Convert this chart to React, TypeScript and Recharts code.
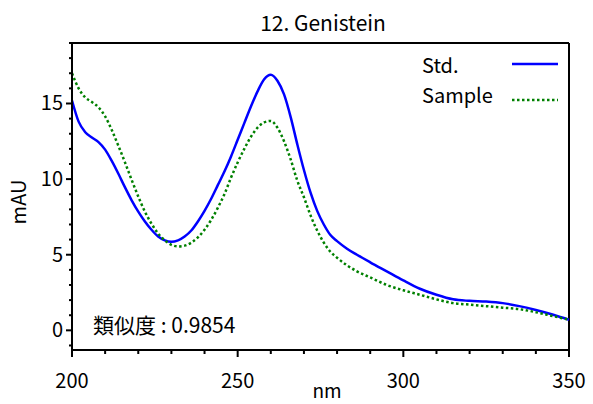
import React from 'react';
import { LineChart, Line, XAxis, YAxis, ReferenceLine, Legend } from 'recharts';

const wavelength = [
  200, 202, 204, 206, 208, 210, 212, 214, 216, 218, 220, 222, 224, 226, 228, 230, 232, 234, 236, 238,
  240, 242, 244, 246, 248, 250, 252, 254, 256, 258, 260, 262, 264, 266, 268, 270, 272, 274, 276, 278,
  280, 283, 286, 290, 295, 300, 305, 310, 315, 320, 325, 330, 335, 340, 345, 350,
];

const stdValues = [
  15.2, 13.8, 13.1, 12.75, 12.45, 11.95, 11.2, 10.35, 9.45, 8.6, 7.85, 7.2, 6.65, 6.2, 5.95, 5.85, 5.95, 6.2, 6.6, 7.2,
  7.9, 8.7, 9.6, 10.5, 11.5, 12.6, 13.7, 14.8, 15.8, 16.6, 16.9, 16.5, 15.6, 14.1, 12.3, 10.6, 9.1, 7.9, 7.0, 6.3,
  5.9, 5.4, 5.0, 4.5, 3.9, 3.3, 2.75, 2.35, 2.05, 1.95, 1.9, 1.8, 1.6, 1.35, 1.05, 0.7,
];

const sampleValues = [
  17.0, 16.0, 15.4, 15.1, 14.75, 14.15, 13.25, 12.2, 11.1, 9.95, 8.85, 7.85, 7.05, 6.4, 5.95, 5.65, 5.55, 5.6, 5.8, 6.15,
  6.65, 7.3, 8.1, 9.0, 10.1, 11.1, 12.0, 12.8, 13.4, 13.75, 13.85, 13.4, 12.5, 11.3, 9.9, 8.8, 7.6, 6.6, 5.8, 5.2,
  4.8, 4.3, 3.9, 3.5, 3.0, 2.65, 2.35, 2.05, 1.8, 1.7, 1.6, 1.5, 1.4, 1.2, 0.95, 0.7,
];

const xTicks = [200, 210, 220, 230, 240, 250, 260, 270, 280, 290, 300, 310, 320, 330, 340, 350];
const xLabeled = [200, 250, 300, 350];
const yTicks = [-1, 0, 1, 2, 3, 4, 5, 6, 7, 8, 9, 10, 11, 12, 13, 14, 15, 16, 17, 18, 19];
const yLabeled = [0, 5, 10, 15];

const data = wavelength.map((nm, i) => ({ nm, std: stdValues[i], sample: sampleValues[i] }));

const FONT = '"Noto Sans CJK JP", "Liberation Sans", sans-serif';

function XTick(props: any) {
  const { x, y, payload } = props;
  const major = xLabeled.includes(payload.value);
  return (
    <g>
      <line x1={x} x2={x} y1={y} y2={y + (major ? 7 : 4)} stroke="#000" strokeWidth={2} />
      {major && (
        <text x={x} y={y + 38} textAnchor="middle" fontSize={20} fontFamily={FONT} fill="#000">
          {payload.value}
        </text>
      )}
    </g>
  );
}

function YTick(props: any) {
  const { x, y, payload } = props;
  const major = yLabeled.includes(payload.value);
  return (
    <g>
      <line x1={x - (major ? 6 : 3)} x2={x} y1={y} y2={y} stroke="#000" strokeWidth={2} />
      {major && (
        <text x={x - 9} y={y + 7} textAnchor="end" fontSize={20} fontFamily={FONT} fill="#000">
          {payload.value}
        </text>
      )}
    </g>
  );
}

function LegendBox() {
  return (
    <svg width={150} height={60} style={{ display: 'block' }}>
      <text x={4} y={23} fontSize={20} fontFamily={FONT} fill="#000">Std.</text>
      <line x1={94} x2={140} y1={14} y2={14} stroke="#0000ff" strokeWidth={2.5} />
      <text x={4} y={53} fontSize={20} fontFamily={FONT} fill="#000">Sample</text>
      <line x1={94} x2={140} y1={50} y2={50} stroke="#008000" strokeWidth={2.5} strokeDasharray="2.5 2.5" />
    </svg>
  );
}

export default function App() {
  return (
    <div style={{ position: 'absolute', left: 0, top: 0, width: 593, height: 404, background: '#fff' }}>
      <LineChart width={593} height={404} data={data} margin={{ top: 43, right: 24, left: 0, bottom: 0 }}>
        <XAxis
          dataKey="nm"
          type="number"
          domain={[200, 350]}
          ticks={xTicks}
          interval={0}
          tickSize={0}
          tickMargin={0}
          tickLine={false}
          tick={<XTick />}
          height={54}
          axisLine={{ stroke: '#000', strokeWidth: 2 }}
        />
        <YAxis
          type="number"
          domain={[-1.3, 19]}
          ticks={yTicks}
          interval={0}
          tickSize={0}
          tickMargin={0}
          tickLine={false}
          tick={<YTick />}
          width={72}
          axisLine={{ stroke: '#000', strokeWidth: 2 }}
        />
        <ReferenceLine y={19} stroke="#000" strokeWidth={2} />
        <ReferenceLine x={350} stroke="#000" strokeWidth={2} />
        <Legend
          layout="horizontal"
          verticalAlign="middle"
          align="center"
          content={<LegendBox />}
          wrapperStyle={{ position: 'absolute', left: 418, top: 50, width: 150, height: 60 }}
        />
        <Line
          dataKey="std"
          name="Std."
          type="monotone"
          stroke="#0000ff"
          strokeWidth={2.5}
          dot={false}
          isAnimationActive={false}
        />
        <Line
          dataKey="sample"
          name="Sample"
          type="monotone"
          stroke="#008000"
          strokeWidth={2.5}
          strokeDasharray="2.5 2.5"
          dot={false}
          isAnimationActive={false}
        />
      </LineChart>
      <svg
        width={593}
        height={404}
        style={{ position: 'absolute', left: 0, top: 0, pointerEvents: 'none' }}
      >
        <text x={323} y={31} textAnchor="middle" fontSize={21} fontFamily={FONT} fill="#000">
          12. Genistein
        </text>
        <text x={327} y={398} textAnchor="middle" fontSize={19} fontFamily={FONT} fill="#000">
          nm
        </text>
        <text
          transform="translate(26,202) rotate(-90)"
          textAnchor="middle"
          fontSize={20}
          fontFamily={FONT}
          fill="#000"
        >
          mAU
        </text>
        <text x={93} y={333} fontSize={21} fontFamily={FONT} fill="#000">
          類似度 : 0.9854
        </text>
      </svg>
    </div>
  );
}
